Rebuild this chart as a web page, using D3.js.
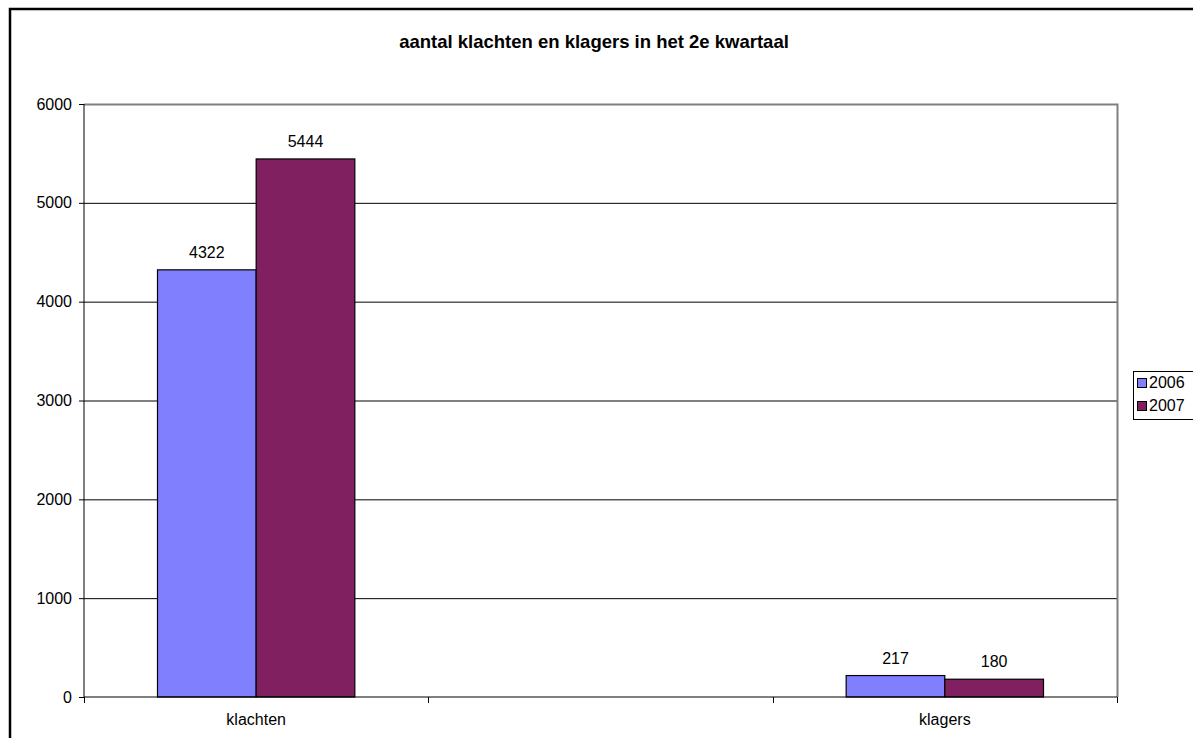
<!DOCTYPE html>
<html><head><meta charset="utf-8">
<script src="https://cdn.jsdelivr.net/npm/d3@7"></script>
<style>body{margin:0;background:#fff;}svg{display:block;font-family:Arial,"Liberation Sans",sans-serif;}</style>
</head><body>
<svg id="c" width="1193" height="738"></svg>
<script>
const title = "aantal klachten en klagers in het 2e kwartaal";
const categories = ["klachten", " ", "klagers"];
const seriesNames = ["2006", "2007"];
const values2006 = [4322, null, 217];
const values2007 = [5444, null, 180];
const yTicks = [0, 1000, 2000, 3000, 4000, 5000, 6000];
const colors = ["#8080FF", "#802060"];

const FONT = "Arial, Liberation Sans, sans-serif";
const svg = d3.select("#c");
const L = 84, R = 1117, T = 104, B = 697;

svg.append("rect").attr("x", 10).attr("y", 9).attr("width", 1200).attr("height", 740)
  .attr("fill", "#fff").attr("stroke", "#000").attr("stroke-width", 2.5);

const x = d3.scaleBand().domain(categories).range([L, R]);
const xs = d3.scaleBand().domain(seriesNames).range([0, x.bandwidth()]).paddingOuter(0.745).paddingInner(0);
const y = d3.scaleLinear().domain([0, 6000]).range([B, T]);

// gridlines
svg.append("g").selectAll("line").data(yTicks.filter(d => d > 0)).join("line")
  .attr("x1", L).attr("x2", R).attr("y1", d => y(d) + 0.5).attr("y2", d => y(d) + 0.5)
  .attr("stroke", "#000").attr("stroke-width", 1);
// plot border (right/top gray)
svg.append("path").attr("d", `M${L},${T + 0.5}H${R + 0.5}V${B}`).attr("fill", "none").attr("stroke", "#808080").attr("stroke-width", 2);

// bars
const series = [values2006, values2007];
series.forEach((vals, si) => {
  const data = categories.map((c, i) => ({c, v: vals[i]})).filter(d => d.v != null);
  svg.append("g").selectAll("rect").data(data).join("rect")
    .attr("x", d => x(d.c) + xs(seriesNames[si]))
    .attr("y", d => y(d.v))
    .attr("width", xs.bandwidth())
    .attr("height", d => y(0) - y(d.v))
    .attr("fill", colors[si]).attr("stroke", "#000").attr("stroke-width", 1.2);
  svg.append("g").selectAll("text").data(data).join("text")
    .attr("x", d => x(d.c) + xs(seriesNames[si]) + xs.bandwidth() / 2)
    .attr("y", d => y(d.v) - 12)
    .attr("text-anchor", "middle").attr("font-size", 16).attr("fill", "#000")
    .text(d => d.v);
});

// y axis
const ya = svg.append("g").attr("transform", `translate(${L},0)`)
  .call(d3.axisLeft(y).tickValues(yTicks).tickSize(5).tickPadding(7).tickFormat(d3.format("d")));
ya.select(".domain").attr("stroke", "#000").attr("d", `M0,${T}V${B}`);
ya.selectAll("text").attr("font-size", 16).attr("font-family", FONT).attr("fill", "#000");
ya.selectAll(".tick line").attr("stroke", "#000");

// x axis
const xa = svg.append("g").attr("transform", `translate(0,${B})`)
  .call(d3.axisBottom(x).tickSize(0).tickPadding(17));
xa.select(".domain").attr("stroke", "#000").attr("d", `M${L},0H${R}`);
xa.selectAll("text").attr("font-size", 16).attr("font-family", FONT).attr("fill", "#000");
// category separator ticks
const seps = categories.map(c => x(c)).concat([R]);
svg.append("g").selectAll("line").data(seps).join("line")
  .attr("x1", d => Math.round(d) + 0.5).attr("x2", d => Math.round(d) + 0.5)
  .attr("y1", B).attr("y2", B + 6).attr("stroke", "#000");

// title
svg.append("text").attr("x", 594).attr("y", 48).attr("text-anchor", "middle")
  .attr("font-size", 18.5).attr("font-weight", "bold").attr("font-family", FONT).text(title);

// legend
const lg = svg.append("g");
lg.append("rect").attr("x", 1133.5).attr("y", 371.5).attr("width", 80).attr("height", 48)
  .attr("fill", "#fff").attr("stroke", "#000");
seriesNames.forEach((s, i) => {
  lg.append("rect").attr("x", 1137.5).attr("y", 378.5 + i * 23).attr("width", 9).attr("height", 9)
    .attr("fill", colors[i]).attr("stroke", "#000");
  lg.append("text").attr("x", 1149).attr("y", 388 + i * 23).attr("font-size", 16).attr("font-family", FONT).text(s);
});
</script>
</body></html>
